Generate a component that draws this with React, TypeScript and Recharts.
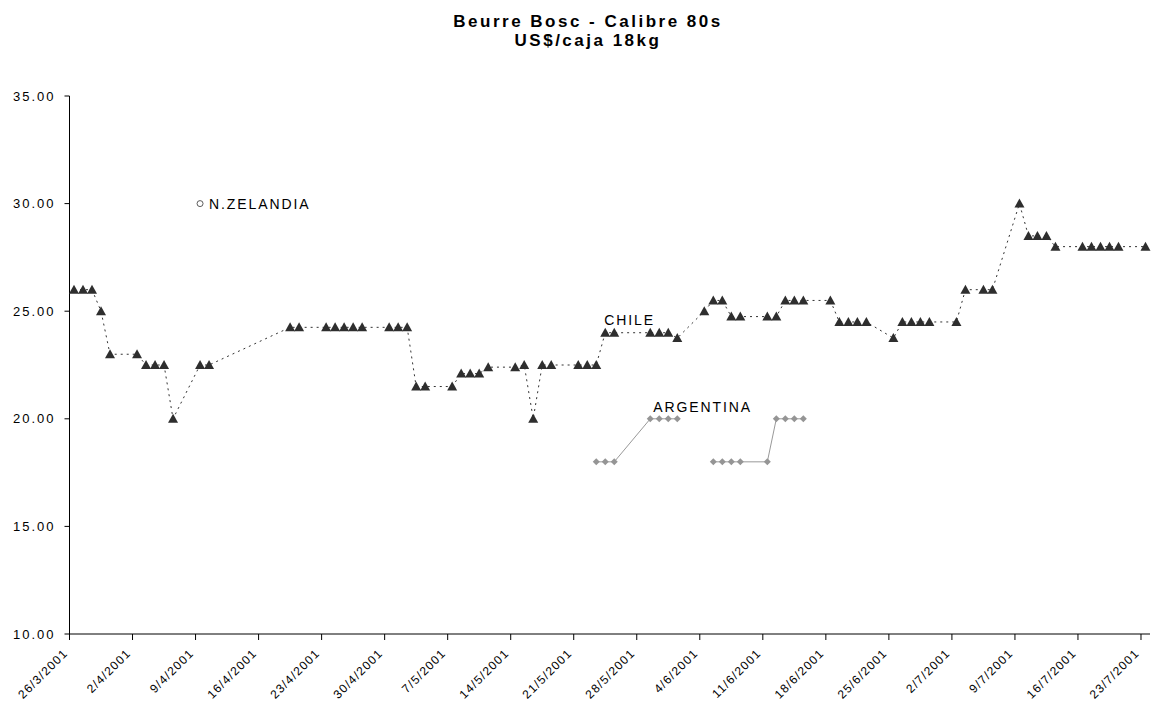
import React from 'react';
import { LineChart, Line, XAxis, YAxis, LabelList } from 'recharts';

// Day offsets counted from 26/3/2001 (a Monday)
const startDate = new Date(2001, 2, 26);

const chileDays = [
  0, 1, 2, 3, 4, 7, 8, 9, 10, 11, 14, 15, 24, 25, 28, 29, 30, 31, 32, 35, 36, 37, 38, 39,
  42, 43, 44, 45, 46, 49, 50, 51, 52, 53, 56, 57, 58, 59, 60, 64, 65, 66, 67, 70, 71, 72,
  73, 74, 77, 78, 79, 80, 81, 84, 85, 86, 87, 88, 91, 92, 93, 94, 95, 98, 99, 101, 102,
  105, 106, 107, 108, 109, 112, 113, 114, 115, 116, 119,
];
const chileValues = [
  26, 26, 26, 25, 23, 23, 22.5, 22.5, 22.5, 20, 22.5, 22.5, 24.25, 24.25, 24.25, 24.25,
  24.25, 24.25, 24.25, 24.25, 24.25, 24.25, 21.5, 21.5, 21.5, 22.1, 22.1, 22.1, 22.4, 22.4,
  22.5, 20, 22.5, 22.5, 22.5, 22.5, 22.5, 24, 24, 24, 24, 24, 23.75, 25, 25.5, 25.5, 24.75,
  24.75, 24.75, 24.75, 25.5, 25.5, 25.5, 25.5, 24.5, 24.5, 24.5, 24.5, 23.75, 24.5, 24.5,
  24.5, 24.5, 24.5, 26, 26, 26, 30, 28.5, 28.5, 28.5, 28, 28, 28, 28, 28, 28, 28,
];

const argDays1 = [58, 59, 60, 64, 65, 66, 67];
const argValues1 = [18, 18, 18, 20, 20, 20, 20];
const argDays2 = [71, 72, 73, 74, 77, 78, 79, 80, 81];
const argValues2 = [18, 18, 18, 18, 18, 20, 20, 20, 20];

const nzDays = [14];
const nzValues = [30];

const yTicks = [10, 15, 20, 25, 30, 35];
// week boundaries: 26/3, 2/4, ... 23/7
const xTicks = Array.from({ length: 18 }, (_, i) => i * 7 - 0.5);

const allDays = Array.from(
  new Set([...chileDays, ...argDays1, ...argDays2, ...nzDays])
).sort((a, b) => a - b);

const data = allDays.map((day) => {
  const pick = (days: number[], vals: number[]) => {
    const i = days.indexOf(day);
    return i >= 0 ? vals[i] : null;
  };
  return {
    day,
    chile: pick(chileDays, chileValues),
    arg1: pick(argDays1, argValues1),
    arg2: pick(argDays2, argValues2),
    nz: pick(nzDays, nzValues),
  };
});

const FONT = '"Liberation Sans", Arial, sans-serif';

function dateLabel(v: number) {
  const d = new Date(startDate);
  d.setDate(d.getDate() + Math.round(v + 0.5));
  return `${d.getDate()}/${d.getMonth() + 1}/2001`;
}

const XTick = ({ x, y, payload }: any) => (
  <text
    x={x - 1}
    y={y + 12}
    transform={`rotate(-45, ${x - 1}, ${y + 12})`}
    textAnchor="end"
    fontSize={12}
    fontFamily={FONT}
    fill="#000"
    style={{ letterSpacing: '1.2px' }}
  >
    {dateLabel(payload.value)}
  </text>
);

const Triangle = (props: any) => {
  const { cx, cy, index } = props;
  if (cy == null || cx == null) return <g key={`t${index}`} />;
  return (
    <path
      key={`t${index}`}
      d={`M${cx},${cy - 5} L${cx + 5},${cy + 4} L${cx - 5},${cy + 4} Z`}
      fill="#2e2e2e"
    />
  );
};

const Diamond = (props: any) => {
  const { cx, cy, index } = props;
  if (cy == null || cx == null) return <g key={`d${index}`} />;
  return (
    <path
      key={`d${index}`}
      d={`M${cx},${cy - 3.5} L${cx + 3.5},${cy} L${cx},${cy + 3.5} L${cx - 3.5},${cy} Z`}
      fill="#959595"
    />
  );
};

const Circle = (props: any) => {
  const { cx, cy, index } = props;
  if (cy == null || cx == null) return <g key={`c${index}`} />;
  return <circle key={`c${index}`} cx={cx} cy={cy} r={3} fill="#fff" stroke="#333" strokeWidth={0.8} />;
};

const seriesLabel = (text: string, day: number, dx: number, dy: number) => (props: any) => {
  const { x, y, index } = props;
  if (data[index] == null || data[index].day !== day || y == null) return null;
  return (
    <text
      x={x + dx}
      y={y + dy}
      fontSize={14}
      fontFamily={FONT}
      fill="#000"
      style={{ letterSpacing: '1.9px' }}
    >
      {text}
    </text>
  );
};

export default function App() {
  return (
    <div style={{ position: 'absolute', left: 0, top: 0, width: 1151, height: 709, background: '#fff' }}>
      <svg width={1151} height={709} style={{ position: 'absolute', left: 0, top: 0 }}>
        <text x={588} y={27} textAnchor="middle" fontSize={17} fontWeight="bold" fontFamily={FONT} style={{ letterSpacing: '2.5px' }}>
          Beurre Bosc - Calibre 80s
        </text>
        <text x={588} y={46} textAnchor="middle" fontSize={17} fontWeight="bold" fontFamily={FONT} style={{ letterSpacing: '2.5px' }}>
          US$/caja 18kg
        </text>
      </svg>
      <div style={{ position: 'absolute', left: 0, top: 0 }}>
        <LineChart width={1151} height={709} data={data} margin={{ top: 96, right: 1, left: 0, bottom: 0 }}>
          <XAxis
            dataKey="day"
            type="number"
            domain={[-0.5, 119.5]}
            ticks={xTicks}
            interval={0}
            height={75}
            tick={<XTick />}
            tickSize={6}
            axisLine={{ stroke: '#000' }}
            tickLine={{ stroke: '#000' }}
          />
          <YAxis
            type="number"
            domain={[10, 35]}
            ticks={yTicks}
            width={69.5}
            tickSize={5}
            tickMargin={9}
            tickFormatter={(v: number) => v.toFixed(2)}
            tick={{ fontSize: 13, fontFamily: FONT, fill: '#000', style: { letterSpacing: '2px' } } as any}
            axisLine={{ stroke: '#000' }}
            tickLine={{ stroke: '#000' }}
          />
          <Line
            dataKey="chile"
            stroke="#333"
            strokeWidth={1}
            strokeDasharray="2 4"
            connectNulls
            dot={Triangle}
            activeDot={false}
            isAnimationActive={false}
          >
            <LabelList dataKey="chile" content={seriesLabel('CHILE', 59, -1, -8)} />
          </Line>
          <Line
            dataKey="arg1"
            stroke="#999"
            strokeWidth={1}
            connectNulls
            dot={Diamond}
            activeDot={false}
            isAnimationActive={false}
          >
            <LabelList dataKey="arg1" content={seriesLabel('ARGENTINA', 64, 3, -7)} />
          </Line>
          <Line
            dataKey="arg2"
            stroke="#999"
            strokeWidth={1}
            connectNulls
            dot={Diamond}
            activeDot={false}
            isAnimationActive={false}
          />
          <Line
            dataKey="nz"
            stroke="none"
            dot={Circle}
            activeDot={false}
            isAnimationActive={false}
          >
            <LabelList dataKey="nz" content={seriesLabel('N.ZELANDIA', 14, 9, 5)} />
          </Line>
        </LineChart>
      </div>
    </div>
  );
}
